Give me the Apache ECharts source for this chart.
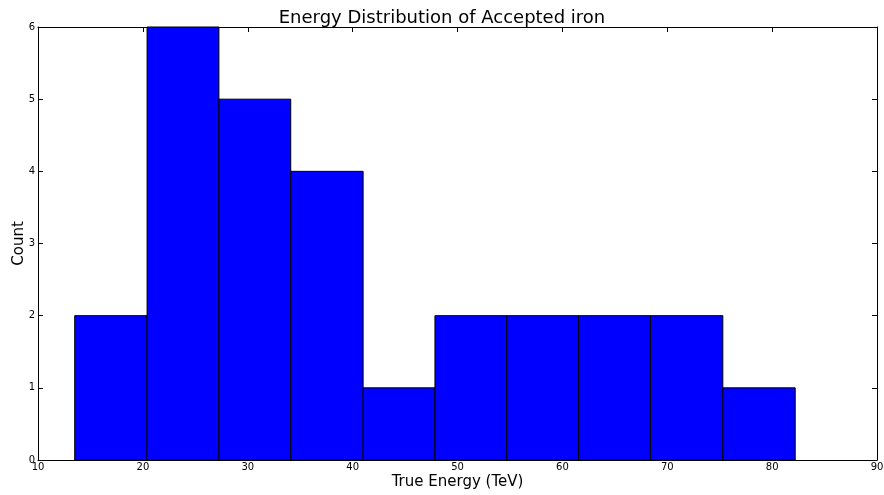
<!DOCTYPE html>
<html>
<head>
<meta charset="utf-8">
<script src="https://cdn.jsdelivr.net/npm/echarts@6/dist/echarts.min.js"></script>
<style>
  html, body { margin: 0; padding: 0; background: #fff; }
  #chart { width: 884px; height: 495px; }
</style>
</head>
<body>
<div id="chart"></div>
<script>
// Histogram bin edges (TeV) and counts per bin
const binEdges = [13.5, 20.4, 27.25, 34.1, 41.0, 47.85, 54.7, 61.55, 68.4, 75.3, 82.2];
const counts = [2, 6, 5, 4, 1, 2, 2, 2, 2, 1];
const xTicks = [10, 20, 30, 40, 50, 60, 70, 80, 90];
const yTicks = [0, 1, 2, 3, 4, 5, 6];

const bins = counts.map((c, i) => [binEdges[i], binEdges[i + 1], c]);

const font = 'DejaVu Sans';
const chart = echarts.init(document.getElementById('chart'));

// frame line with inward ticks, as a fresh object per axis
function frame(extra) {
  return Object.assign({
    axisLine: { show: true, onZero: false, lineStyle: { color: '#000', width: 1 } },
    axisTick: { show: true, inside: true, length: 5, lineStyle: { color: '#000', width: 1 } },
    splitLine: { show: false }
  }, extra);
}

chart.setOption({
  animation: false,
  backgroundColor: '#fff',
  title: {
    text: 'Energy Distribution of Accepted iron',
    left: 'center',
    top: 4,
    textStyle: { fontFamily: font, fontSize: 18, fontWeight: 'normal', color: '#000' }
  },
  grid: { left: 38, right: 7, top: 27, bottom: 35, containLabel: false, outerBoundsMode: 'none' },
  xAxis: [
    frame({
      type: 'value', min: xTicks[0], max: xTicks[xTicks.length - 1], interval: 10,
      position: 'bottom',
      name: 'True Energy (TeV)', nameLocation: 'middle', nameGap: 15, nameMoveOverlap: false,
      nameTextStyle: { fontFamily: font, fontSize: 15, color: '#000' },
      axisLabel: { fontFamily: font, fontSize: 10, color: '#000', margin: 2 }
    }),
    frame({
      type: 'value', min: xTicks[0], max: xTicks[xTicks.length - 1], interval: 10,
      position: 'top',
      axisLabel: { show: false }
    })
  ],
  yAxis: [
    frame({
      type: 'value', min: yTicks[0], max: yTicks[yTicks.length - 1], interval: 1,
      position: 'left',
      name: 'Count', nameLocation: 'middle', nameGap: 11, nameMoveOverlap: false,
      nameTextStyle: { fontFamily: font, fontSize: 15, color: '#000' },
      axisLabel: { fontFamily: font, fontSize: 10, color: '#000', margin: 3 }
    }),
    frame({
      type: 'value', min: yTicks[0], max: yTicks[yTicks.length - 1], interval: 1,
      position: 'right',
      axisLabel: { show: false }
    })
  ],
  series: [{
    type: 'custom',
    xAxisIndex: 0,
    yAxisIndex: 0,
    data: bins,
    encode: { x: [0, 1], y: 2 },
    renderItem: function (params, api) {
      const p0 = api.coord([api.value(0), api.value(2)]);
      const p1 = api.coord([api.value(1), 0]);
      return {
        type: 'rect',
        shape: { x: p0[0], y: p0[1], width: p1[0] - p0[0], height: p1[1] - p0[1] },
        style: { fill: '#0000ff', stroke: '#000', lineWidth: 1 }
      };
    },
    z: 1
  }]
});
</script>
</body>
</html>
